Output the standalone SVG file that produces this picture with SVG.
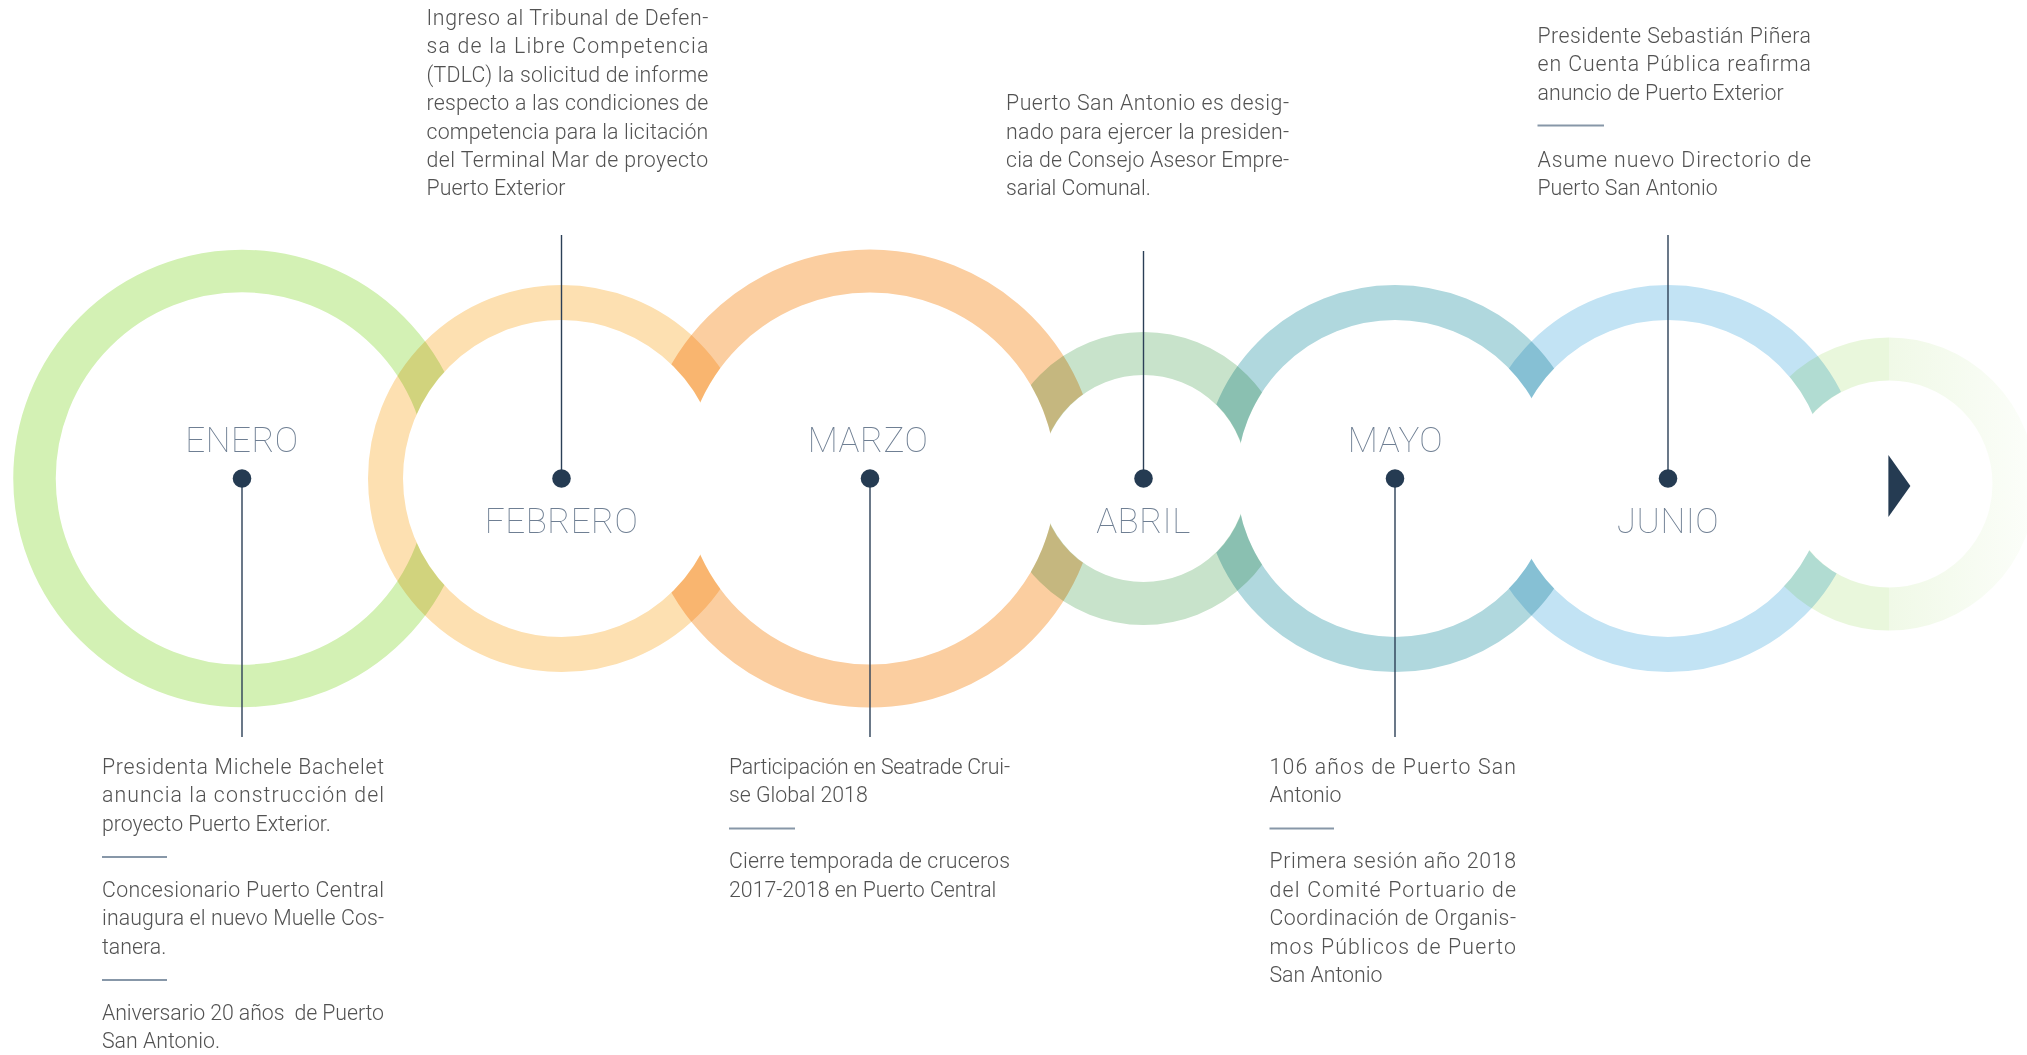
<svg xmlns="http://www.w3.org/2000/svg" width="2027" height="1055" viewBox="0 0 2027 1055">
<style>
.ring{fill:none;mix-blend-mode:multiply}
.body{font-family:Roboto,"Liberation Sans",sans-serif;font-size:21.3px;font-weight:300;fill:#525252}
.month{font-family:Roboto,"Liberation Sans",sans-serif;font-size:35px;font-weight:100;fill:#6f7f93;text-anchor:middle;letter-spacing:0.5px}
.dot{fill:#253b52}
.conn{stroke:#2b3f56;stroke-width:1.4}
.sep{stroke:#8797a8;stroke-width:2}
</style>
<defs>
<linearGradient id="fade" gradientUnits="userSpaceOnUse" x1="1764" y1="0" x2="2036" y2="0">
<stop offset="0" stop-color="#e9f7dc"/>
<stop offset="0.459" stop-color="#e9f7dc"/>
<stop offset="0.461" stop-color="#f0f9e7"/>
<stop offset="1" stop-color="#fcfefa"/>
</linearGradient>
<mask id="m-enero" maskUnits="userSpaceOnUse" x="0" y="0" width="2027" height="1055">
<rect width="2027" height="1055" fill="#fff"/>
<circle cx="561.5" cy="478.5" r="158.5" fill="#000"/>
</mask>
<mask id="m-febrero" maskUnits="userSpaceOnUse" x="0" y="0" width="2027" height="1055">
<rect width="2027" height="1055" fill="#fff"/>
<circle cx="870" cy="478.5" r="186" fill="#000"/>
</mask>
<mask id="m-marzo" maskUnits="userSpaceOnUse" x="0" y="0" width="2027" height="1055">
<rect width="2027" height="1055" fill="#fff"/>
<circle cx="561.5" cy="478.5" r="158.5" fill="#000"/>
<circle cx="1143.5" cy="478.5" r="103.8" fill="#000"/>
</mask>
<mask id="m-abril" maskUnits="userSpaceOnUse" x="0" y="0" width="2027" height="1055">
<rect width="2027" height="1055" fill="#fff"/>
<circle cx="870" cy="478.5" r="186" fill="#000"/>
<circle cx="1395" cy="478.5" r="158.5" fill="#000"/>
</mask>
<mask id="m-mayo" maskUnits="userSpaceOnUse" x="0" y="0" width="2027" height="1055">
<rect width="2027" height="1055" fill="#fff"/>
<circle cx="1143.5" cy="478.5" r="103.8" fill="#000"/>
<circle cx="1668" cy="478.5" r="158.5" fill="#000"/>
</mask>
<mask id="m-junio" maskUnits="userSpaceOnUse" x="0" y="0" width="2027" height="1055">
<rect width="2027" height="1055" fill="#fff"/>
<circle cx="1395" cy="478.5" r="158.5" fill="#000"/>
<circle cx="1889" cy="484" r="103.8" fill="#000"/>
</mask>
<mask id="m-next" maskUnits="userSpaceOnUse" x="0" y="0" width="2027" height="1055">
<rect width="2027" height="1055" fill="#fff"/>
<circle cx="1668" cy="478.5" r="158.5" fill="#000"/>
</mask>
</defs>
<rect width="2027" height="1055" fill="#fff"/>

<g id="rings">
<g mask="url(#m-enero)" style="mix-blend-mode:multiply"><circle class="ring" cx="242" cy="478.5" r="207.5" stroke="#d3f1b4" stroke-width="42.5"/></g>
<g mask="url(#m-febrero)" style="mix-blend-mode:multiply"><circle class="ring" cx="561.5" cy="478.5" r="176" stroke="#fde0b1" stroke-width="35"/></g>
<g mask="url(#m-marzo)" style="mix-blend-mode:multiply"><circle class="ring" cx="870" cy="478.5" r="207.5" stroke="#fbcea0" stroke-width="43"/></g>
<g mask="url(#m-abril)" style="mix-blend-mode:multiply"><circle class="ring" cx="1143.5" cy="478.5" r="125" stroke="#c8e3cb" stroke-width="43"/></g>
<g mask="url(#m-mayo)" style="mix-blend-mode:multiply"><circle class="ring" cx="1395" cy="478.5" r="176" stroke="#b0d8de" stroke-width="35"/></g>
<g mask="url(#m-junio)" style="mix-blend-mode:multiply"><circle class="ring" cx="1668" cy="478.5" r="176" stroke="#c2e3f4" stroke-width="35"/></g>
<g mask="url(#m-next)" style="mix-blend-mode:multiply"><circle class="ring" cx="1889" cy="484" r="125" stroke="url(#fade)" stroke-width="43"/></g>
</g>

<g id="connectors">
<line class="conn" x1="242" y1="478.5" x2="242" y2="737"/>
<line class="conn" x1="561.5" y1="235" x2="561.5" y2="478.5"/>
<line class="conn" x1="870" y1="478.5" x2="870" y2="737"/>
<line class="conn" x1="1143.5" y1="251" x2="1143.5" y2="478.5"/>
<line class="conn" x1="1395" y1="478.5" x2="1395" y2="737"/>
<line class="conn" x1="1668" y1="235" x2="1668" y2="478.5"/>
</g>

<g id="enero">
<text class="month" x="242" y="452">ENERO</text>
<circle class="dot" cx="242" cy="478.5" r="9.3"/>
<text class="body" x="102" y="774" textLength="282" lengthAdjust="spacing">Presidenta Michele Bachelet</text>
<text class="body" x="102" y="802.4" textLength="282" lengthAdjust="spacing">anuncia la construcción del</text>
<text class="body" x="102" y="830.8">proyecto Puerto Exterior.</text>
<line class="sep" x1="102" y1="857" x2="167" y2="857"/>
<text class="body" x="102" y="896.8" textLength="282" lengthAdjust="spacing">Concesionario Puerto Central</text>
<text class="body" x="102" y="925.2" textLength="282" lengthAdjust="spacing">inaugura el nuevo Muelle Cos-</text>
<text class="body" x="102" y="953.6">tanera.</text>
<line class="sep" x1="102" y1="980" x2="167" y2="980"/>
<text class="body" x="102" y="1019.6" textLength="282" lengthAdjust="spacing" style="white-space:pre">Aniversario 20 años  de Puerto</text>
<text class="body" x="102" y="1048">San Antonio.</text>
</g>

<g id="febrero">
<text class="month" x="561.5" y="532.7">FEBRERO</text>
<circle class="dot" cx="561.5" cy="478.5" r="9.3"/>
<text class="body" x="426.6" y="25" textLength="281.7" lengthAdjust="spacing">Ingreso al Tribunal de Defen-</text>
<text class="body" x="426.6" y="53.4" textLength="281.7" lengthAdjust="spacing">sa de la Libre Competencia</text>
<text class="body" x="426.6" y="81.8" textLength="281.7" lengthAdjust="spacing">(TDLC) la solicitud de informe</text>
<text class="body" x="426.6" y="110.2" textLength="281.7" lengthAdjust="spacing">respecto a las condiciones de</text>
<text class="body" x="426.6" y="138.6" textLength="281.7" lengthAdjust="spacing">competencia para la licitación</text>
<text class="body" x="426.6" y="167" textLength="281.7" lengthAdjust="spacing">del Terminal Mar de proyecto</text>
<text class="body" x="426.6" y="195.4">Puerto Exterior</text>
</g>

<g id="marzo">
<text class="month" x="868" y="452">MARZO</text>
<circle class="dot" cx="870" cy="478.5" r="9.3"/>
<text class="body" x="729" y="774" textLength="281" lengthAdjust="spacing">Participación en Seatrade Crui-</text>
<text class="body" x="729" y="802.4">se Global 2018</text>
<line class="sep" x1="729" y1="828.6" x2="795" y2="828.6"/>
<text class="body" x="729" y="868.4" textLength="281" lengthAdjust="spacing">Cierre temporada de cruceros</text>
<text class="body" x="729" y="896.8">2017-2018 en Puerto Central</text>
</g>

<g id="abril">
<text class="month" x="1143.5" y="532.7">ABRIL</text>
<circle class="dot" cx="1143.5" cy="478.5" r="9.3"/>
<text class="body" x="1006" y="110.2" textLength="283" lengthAdjust="spacing">Puerto San Antonio es desig-</text>
<text class="body" x="1006" y="138.6" textLength="283" lengthAdjust="spacing">nado para ejercer la presiden-</text>
<text class="body" x="1006" y="167" textLength="283" lengthAdjust="spacing">cia de Consejo Asesor Empre-</text>
<text class="body" x="1006" y="195.4">sarial Comunal.</text>
</g>

<g id="mayo">
<text class="month" x="1395.5" y="452">MAYO</text>
<circle class="dot" cx="1395" cy="478.5" r="9.3"/>
<text class="body" x="1269.5" y="774" textLength="246.5" lengthAdjust="spacing">106 años de Puerto San</text>
<text class="body" x="1269.5" y="802.4">Antonio</text>
<line class="sep" x1="1269.5" y1="828.6" x2="1334" y2="828.6"/>
<text class="body" x="1269.5" y="868.4" textLength="246.5" lengthAdjust="spacing">Primera sesión año 2018</text>
<text class="body" x="1269.5" y="896.8" textLength="246.5" lengthAdjust="spacing">del Comité Portuario de</text>
<text class="body" x="1269.5" y="925.2" textLength="246.5" lengthAdjust="spacing">Coordinación de Organis-</text>
<text class="body" x="1269.5" y="953.6" textLength="246.5" lengthAdjust="spacing">mos Públicos de Puerto</text>
<text class="body" x="1269.5" y="982">San Antonio</text>
</g>

<g id="junio">
<text class="month" x="1668" y="532.7">JUNIO</text>
<circle class="dot" cx="1668" cy="478.5" r="9.3"/>
<text class="body" x="1537.5" y="43" textLength="273.5" lengthAdjust="spacing">Presidente Sebastián Piñera</text>
<text class="body" x="1537.5" y="71.4" textLength="273.5" lengthAdjust="spacing">en Cuenta Pública reafirma</text>
<text class="body" x="1537.5" y="99.8">anuncio de Puerto Exterior</text>
<line class="sep" x1="1537.5" y1="125.4" x2="1604" y2="125.4"/>
<text class="body" x="1537.5" y="167" textLength="273.5" lengthAdjust="spacing">Asume nuevo Directorio de</text>
<text class="body" x="1537.5" y="195.4">Puerto San Antonio</text>
</g>

<g id="next">
<polygon class="dot" points="1888.4,455 1910.4,486 1888.4,517"/>
</g>
</svg>
